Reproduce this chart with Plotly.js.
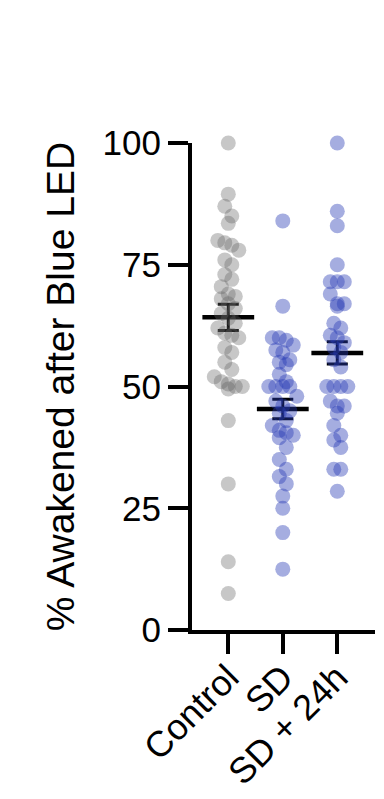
<!DOCTYPE html>
<html>
<head>
<meta charset="utf-8">
<script src="https://cdn.plot.ly/plotly-3.0.1.min.js"></script>
<style>
  html, body { margin: 0; padding: 0; background: #fff; }
  #chart { width: 384px; height: 799px; }
</style>
</head>
<body>
<div id="chart"></div>
<script>
// ---- data ----
const categories = ['Control', 'SD', 'SD + 24h'];
const controlVals = [100, 89.5, 87, 85, 83.5, 80, 79.5, 79, 78, 76, 75, 73, 72, 70.5, 69, 68.5, 68, 67, 66, 65,
  64, 63, 62, 61, 60.5, 60, 58, 57, 55, 53.5, 52, 51, 50.5, 50, 50, 49.5, 43, 30, 14, 7.5];
const sdVals = [84, 66.5, 60, 60, 59.5, 58.5, 57.5, 57, 55.5, 55, 54.5, 52.5, 51, 50, 50, 50, 50, 48, 47, 46,
  45, 44.5, 43, 42, 41, 40.5, 40, 39.5, 37.5, 35, 33, 31.5, 30, 27.5, 25, 20, 12.5];
const sd24Vals = [100, 86, 83, 75, 71.5, 71.5, 71.5, 69, 67, 67, 66.5, 63, 62, 60.5, 60, 59, 58, 57, 55.5, 54,
  50, 50, 50, 50, 47, 46, 46, 44.5, 42, 40, 39, 37.5, 33, 33, 28.5];
const means = [64.2, 45.4, 56.9];
const sems = [2.7, 2.0, 2.3];
const sigLabels = ['****', '**'];

// ---- styling ----
const FONT = 'Liberation Sans, Arial, Helvetica, sans-serif';
const groupColors = ['rgba(100,100,100,0.36)', 'rgba(40,60,180,0.42)', 'rgba(40,60,180,0.42)'];

// layout geometry (pixels)
const W = 384, H = 799;
const margin = {l: 192, r: 9, t: 143, b: 169, pad: 0};
const xRange = [-0.666, 2.692];
const yRange = [0, 100];
const plotW = W - margin.l - margin.r;
const plotH = H - margin.t - margin.b;
const pxPerX = plotW / (xRange[1] - xRange[0]);
const pxPerY = plotH / (yRange[1] - yRange[0]);

// deterministic row-based scatter arrangement (GraphPad-like)
function arrange(values, idx) {
  const sorted = values.slice().sort((a, b) => b - a);
  const rowTol = 11 / pxPerY;     // values within ~11px share a row
  const step = 7 / pxPerX;        // horizontal spacing inside a row
  const xs = [], ys = [];
  let i = 0;
  while (i < sorted.length) {
    const row = [sorted[i]];
    let j = i + 1;
    while (j < sorted.length && sorted[i] - sorted[j] < rowTol) { row.push(sorted[j]); j++; }
    const n = row.length;
    row.forEach((v, k) => {
      xs.push(idx + (k - (n - 1) / 2) * step);
      ys.push(v);
    });
    i = j;
  }
  return {xs, ys};
}

const groups = [controlVals, sdVals, sd24Vals];
const traces = [];

// mean +/- SEM (drawn first, points go over them)
traces.push({
  type: 'scatter', mode: 'markers',
  x: categories.map((c, i) => i), y: means,
  marker: {symbol: 'line-ew', size: 37, color: '#000', line: {color: '#000', width: 4.5}},
  error_y: {type: 'data', array: sems, visible: true, color: '#000', thickness: 3, width: 10.5},
  cliponaxis: false, hoverinfo: 'skip', showlegend: false
});

groups.forEach((vals, gi) => {
  const p = arrange(vals, gi);
  traces.push({
    type: 'scatter', mode: 'markers',
    x: p.xs, y: p.ys,
    marker: {size: 15, color: groupColors[gi], line: {width: 0}},
    cliponaxis: false, showlegend: false, name: categories[gi]
  });
});

const layout = {
  width: W, height: H,
  margin: margin,
  paper_bgcolor: '#fff', plot_bgcolor: '#fff',
  font: {family: FONT, color: '#000', size: 34},
  showlegend: false,
  xaxis: {
    range: xRange, fixedrange: true,
    tickmode: 'array', tickvals: [0, 1, 2], ticktext: categories,
    tickangle: -45,
    showline: true, linecolor: '#000', linewidth: 4,
    ticks: 'outside', ticklen: 20, tickwidth: 4, tickcolor: '#000',
    ticklabelstandoff: -12,
    showgrid: false, zeroline: false,
    tickfont: {family: FONT, size: 36, color: '#000'}
  },
  yaxis: {
    range: yRange, fixedrange: true,
    tickmode: 'array', tickvals: [0, 25, 50, 75, 100],
    showline: true, linecolor: '#000', linewidth: 4,
    ticks: 'outside', ticklen: 20, tickwidth: 4, tickcolor: '#000',
    showgrid: false, zeroline: false,
    tickfont: {family: FONT, size: 35, color: '#000'},
    title: {text: '% Awakened after Blue LED', font: {family: FONT, size: 39, color: '#000'}, standoff: 17}
  },
  shapes: [
    {type: 'line', xref: 'x', yref: 'y', x0: -0.01, x1: 0.84, y0: 104.1, y1: 104.1, line: {color: '#000', width: 2}},
    {type: 'line', xref: 'x', yref: 'y', x0: 1.17, x1: 2.03, y0: 104.1, y1: 104.1, line: {color: '#000', width: 2}}
  ],
  annotations: [
    {xref: 'x', yref: 'y', x: 0.42, y: 109.3, text: sigLabels[0], showarrow: false,
     font: {family: FONT, size: 37, color: '#000', weight: 'bold'}, xanchor: 'center', yanchor: 'middle'},
    {xref: 'x', yref: 'y', x: 1.61, y: 109.3, text: sigLabels[1], showarrow: false,
     font: {family: FONT, size: 37, color: '#000', weight: 'bold'}, xanchor: 'center', yanchor: 'middle'}
  ]
};

Plotly.newPlot('chart', traces, layout, {staticPlot: true, displayModeBar: false});
</script>
</body>
</html>
